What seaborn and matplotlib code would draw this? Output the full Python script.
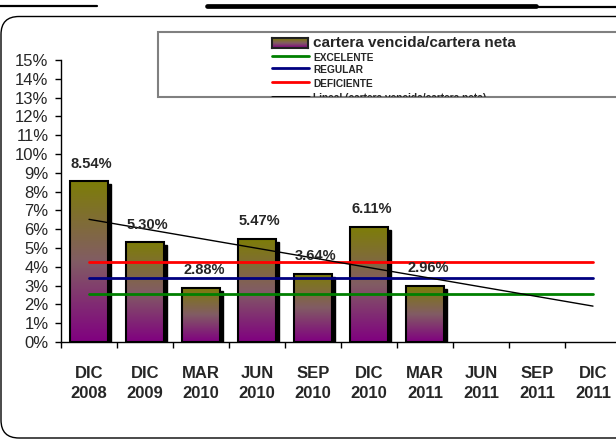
import numpy as np
import pandas as pd
import matplotlib
matplotlib.use("Agg")
import matplotlib.pyplot as plt
import seaborn as sns
from matplotlib.patches import Rectangle, FancyBboxPatch
from matplotlib.lines import Line2D
from matplotlib.transforms import ScaledTranslation, IdentityTransform, Bbox

# data (values in %)
periods = ["DIC\n2008", "DIC\n2009", "MAR\n2010", "JUN\n2010", "SEP\n2010",
           "DIC\n2010", "MAR\n2011", "JUN\n2011", "SEP\n2011", "DIC\n2011"]
ratio = [8.54, 5.30, 2.88, 5.47, 3.64, 6.11, 2.96, np.nan, np.nan, np.nan]
excelente = 2.55
regular = 3.40
deficiente = 4.25
legend_labels = ["cartera vencida/cartera neta", "EXCELENTE", "REGULAR", "DEFICIENTE",
                 "Lineal (cartera vencida/cartera neta)"]

# gradient stops, bottom -> top
grad_stops = np.array([[128, 0, 128], [130, 92, 100], [125, 125, 8]]) / 255

sns.set_style("ticks")
plt.rcParams['font.family'] = ['Liberation Sans', 'DejaVu Sans']

W, H = 616, 440
fig = plt.figure(figsize=(W / 100, H / 100), dpi=100)
ax = fig.add_axes([61 / W, 98 / H, 560 / W, 282 / H])

df = pd.DataFrame({"periodo": periods, "ratio": ratio})
sns.barplot(data=df, x="periodo", y="ratio", order=periods, width=0.68,
            color="#808040", edgecolor="black", linewidth=1.5, ax=ax)

# vertical gradient purple (bottom) -> olive (top)
t = np.linspace(0, 1, 256)
sp = np.linspace(0, 1, len(grad_stops))
grad = np.stack([np.interp(t, sp, grad_stops[:, c]) for c in range(3)], axis=-1)[:, None, :]

shadow_tr = ax.transData + ScaledTranslation(3 / 100, -3 / 100, fig.dpi_scale_trans)
for p in list(ax.patches):
    h = p.get_height()
    if not np.isfinite(h) or h == 0:
        continue
    x0, y0, w = p.get_x(), p.get_y(), p.get_width()
    ax.add_patch(Rectangle((x0, y0), w, h, facecolor="black", edgecolor="black",
                           transform=shadow_tr, zorder=1))
    im = ax.imshow(grad, extent=(x0, x0 + w, y0, y0 + h), origin="lower",
                   aspect="auto", interpolation="bilinear", zorder=2)
    im.set_clip_path(p)
    p.set_facecolor("none")
    p.set_zorder(3)

# reference lines and linear trend
n = len(periods)
xi = np.arange(n)
ax.plot(xi, np.full(n, excelente), color="#008000", lw=2, zorder=4)
ax.plot(xi, np.full(n, regular), color="#000080", lw=2, zorder=4)
ax.plot(xi, np.full(n, deficiente), color="#FF0000", lw=2, zorder=4)
vals = np.array(ratio, dtype=float)
ok = np.isfinite(vals)
coef = np.polyfit(xi[ok], vals[ok], 1)
ax.plot(xi, np.polyval(coef, xi), color="black", lw=1, zorder=4)

for i, v in enumerate(ratio):
    if np.isfinite(v):
        ax.text(i + 0.05, v + 0.95, f"{v:.2f}%", ha="center", va="center",
                fontsize=10.5, fontweight="bold", zorder=6)

ax.set_xlim(-0.5, n - 0.5)
ax.set_ylim(0, 15)
ax.set_yticks(range(0, 16))
ax.set_yticklabels([f"{v}%" for v in range(0, 16)], fontsize=12)
ax.set_xticks(xi)
ax.set_xticklabels(periods, fontsize=12, fontweight="bold", linespacing=1.45)
ax.set_xticks(np.arange(n + 1) - 0.5, minor=True)
ax.tick_params(axis="x", which="major", length=0, pad=17)
ax.tick_params(axis="x", which="minor", length=4, width=1, color="black", direction="out")
ax.tick_params(axis="y", length=4, width=1, color="black", direction="out", pad=5, left=True)
ax.set_xlabel("")
ax.set_ylabel("")
ax.set_facecolor("none")
for s in ["top", "right"]:
    ax.spines[s].set_visible(False)
for s in ["left", "bottom"]:
    ax.spines[s].set_color("black")
    ax.spines[s].set_linewidth(1)

# page decorations (pixel coordinates, y measured from top)
pix = IdentityTransform()
def py(y):
    return H - y

fig.add_artist(Line2D([0, 97], [py(6), py(6)], color="black", lw=1.6, transform=pix))
fig.add_artist(Line2D([207, 536], [py(6), py(6)], color="black", lw=3.4, transform=pix))
fig.add_artist(Line2D([536, W], [py(6.5), py(6.5)], color="black", lw=1.6, transform=pix))
fig.add_artist(FancyBboxPatch((1, py(438)), 700, 438 - 16.5,
                              boxstyle="round,pad=0,rounding_size=18",
                              fill=False, ec="black", lw=1, transform=pix, zorder=0))

# legend box (clipped at its bottom edge as in the original)
fig.add_artist(Rectangle((158, py(97)), 700, 65, facecolor="white", edgecolor="#808080",
                         lw=1.5, transform=pix, zorder=5))
clip = Bbox.from_extents(158, py(97), 900, py(32))
lax = fig.add_axes([272 / W, (H - 48) / H, 36 / W, 10 / H], zorder=6)
lax.imshow(grad, origin="lower", aspect="auto", extent=(0, 1, 0, 1))
lax.set_xticks([])
lax.set_yticks([])
for s in lax.spines.values():
    s.set_linewidth(1.5)
    s.set_color("#202020")
fig.text(313 / W, (H - 43) / H, legend_labels[0], fontsize=11, fontweight="bold",
         va="center", ha="left", zorder=7)
line_cols = ["#008000", "#000080", "#FF0000", "black"]
line_rows = [55.7, 68.3, 82, 96.5]
for lab, col, r in zip(legend_labels[1:], line_cols, line_rows):
    ln = Line2D([272, 309], [py(r), py(r)], color=col, lw=2, transform=pix, zorder=7)
    ln.set_clip_box(clip)
    fig.add_artist(ln)
    tx = fig.text(313, py(r + 1.8), lab, fontsize=7.3, fontweight="bold",
                  va="center", ha="left", transform=pix, zorder=7)
    tx.set_clip_box(clip)
    tx.set_clip_on(True)

fig.savefig("out.png", dpi=100)
